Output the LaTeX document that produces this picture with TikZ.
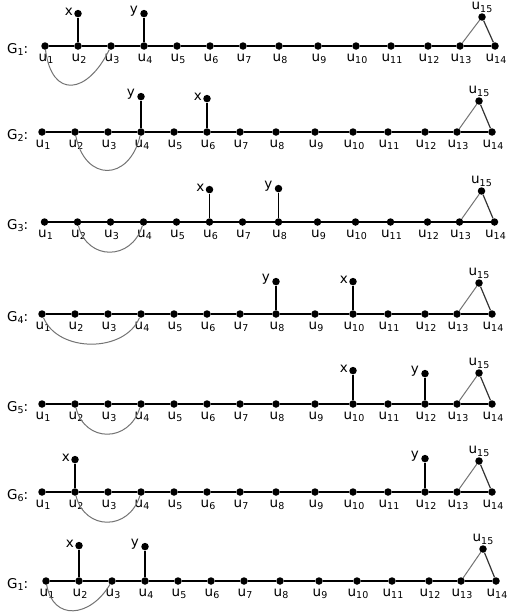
\documentclass[tikz,border=0pt]{standalone}
\usepackage{fontspec}
\setmainfont{DejaVu Sans}
\usetikzlibrary{positioning}
\newcommand{\sbs}[1]{\raisebox{-2.3pt}{\fontsize{9.5}{10}\selectfont #1}}
\tikzset{
  vtx/.style={circle,fill=black,draw=none,inner sep=0pt,minimum size=7.5pt},
  ulbl/.style={font=\fontsize{13.5}{14}\selectfont,inner sep=0pt,anchor=base},
  plbl/.style={font=\fontsize{13.5}{14}\selectfont,inner sep=0pt},
  gtitle/.style={font=\fontsize{13.5}{14}\selectfont,inner sep=0pt,anchor=base west},
  pathedge/.style={line width=1.2pt,black},
  pendedge/.style={line width=1.3pt,black},
  arcedge/.style={line width=1pt,black!55},
  triL/.style={line width=1pt,black!55},
  triR/.style={line width=1.2pt,black!80},
}
% row id, baseline, x shift, title index, apex height
\newcommand{\drawrow}[5]{%
  \node[gtitle] (#1G) at (7,{#2+7}) {G\sbs{#4}:};
  \begin{scope}[shift={(#3,#2)}]
    \foreach \xx [count=\i] in {42,75,108,141,174,207,240,276,315,353,388,425,457,492}{
      \node[vtx] (#1u\i) at (\xx,0) {};
      \node[ulbl] (#1l\i) at (\xx+1,15.5) {u\sbs{\i}};
    }
    \node[vtx] (#1u15) at (479,-#5) {};
  \end{scope}
  \node[ulbl,anchor=south] (#1l15) at ([yshift=0.5pt]#1u15.north) {u\sbs{15}};
  \foreach \i [evaluate=\i as \j using int(\i+1)] in {1,...,13}{\draw[pathedge] (#1u\i) -- (#1u\j);}
  \draw[triL] (#1u13) -- (#1u15);
  \draw[triR] (#1u15) -- (#1u14);
}
% row, vertex index, name, label, gap, distance
\newcommand{\pend}[6]{%
  \node[vtx,above=#6 of #1u#2] (#1#3) {};
  \draw[pendedge] (#1u#2) -- (#1#3);
  \node[plbl,left=#5 of #1#3,yshift=2pt] (#1#3l) {#4};
}
\begin{document}
\begin{tikzpicture}[x=1pt,y=-1pt]
\useasboundingbox (0,0) rectangle (510,613);
% G1
\drawrow{A}{46}{3}{1}{29}
\pend{A}{2}{x}{x}{1pt}{24.5pt}
\pend{A}{4}{y}{y}{2pt}{24.5pt}
\draw[arcedge] (Au1) .. controls +(7,54) and +(-23,48) .. (Au3);
% G2
\drawrow{B}{132}{0}{2}{31}
\pend{B}{4}{y}{y}{2pt}{27.5pt}
\pend{B}{6}{x}{x}{1pt}{25.5pt}
\draw[arcedge] (Bu2) .. controls +(10,50) and +(-12,50) .. (Bu4);
% G3
\drawrow{C}{222}{2.5}{3}{31}
\pend{C}{6}{x}{x}{1pt}{24.5pt}
\pend{C}{8}{y}{y}{2pt}{25.5pt}
\draw[arcedge] (Cu2) .. controls +(10,39) and +(-12,39) .. (Cu4);
% G4
\drawrow{D}{314}{0}{4}{31}
\pend{D}{8}{y}{y}{2pt}{24.5pt}
\pend{D}{10}{x}{x}{1pt}{24.5pt}
\draw[arcedge] (Du1) .. controls +(16,39) and +(-16,39) .. (Du4);
% G5
\drawrow{E}{404}{0}{5}{31}
\pend{E}{10}{x}{x}{1pt}{25.5pt}
\pend{E}{12}{y}{y}{2pt}{22.5pt}
\draw[arcedge] (Eu2) .. controls +(10,39) and +(-12,39) .. (Eu4);
% G6
\drawrow{F}{492}{0}{6}{31}
\pend{F}{2}{x}{x}{1pt}{24.5pt}
\pend{F}{12}{y}{y}{2pt}{25.5pt}
\draw[arcedge] (Fu2) .. controls +(10,39) and +(-12,39) .. (Fu4);
% G1 again
\drawrow{G}{581}{4}{1}{32}
\pend{G}{2}{x}{x}{1pt}{27.5pt}
\pend{G}{4}{y}{y}{2pt}{26.5pt}
\draw[arcedge] (Gu1) .. controls +(7,40) and +(-22,37) .. (Gu3);
\end{tikzpicture}
\end{document}
